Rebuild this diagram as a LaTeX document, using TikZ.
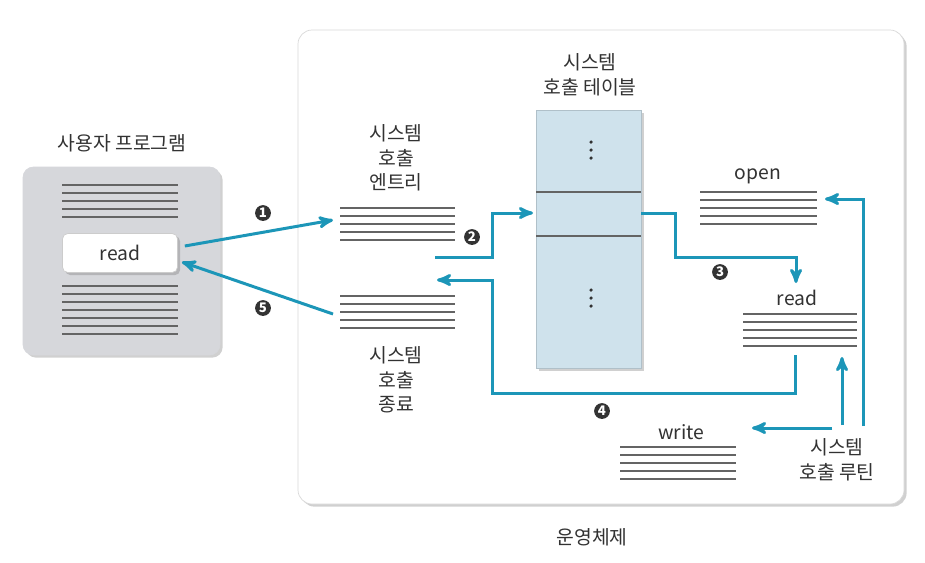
\documentclass[tikz,border=0pt]{standalone}
\usepackage{fontspec}
\setmainfont{Noto Sans CJK KR}
\usetikzlibrary{calc}
\usetikzlibrary{arrows}
\usetikzlibrary{shadows}

\definecolor{callblue}{RGB}{28,150,184}
\definecolor{tableblue}{RGB}{207,226,236}
\definecolor{progray}{RGB}{214,215,219}
\definecolor{txtgray}{RGB}{50,50,50}
\definecolor{linegray}{RGB}{100,100,100}

\begin{document}
\begin{tikzpicture}[>=stealth', x=0.02cm, y=-0.02cm]
\tikzset{txt/.style={text=txtgray,align=center,font=\fontsize{11}{14}\selectfont}}
\tikzset{textline/.style={draw=linegray,line width=0.6pt}}
\tikzset{flow/.style={->,draw=callblue,line width=1.7pt}}
\tikzset{badge/.style={circle,fill=black!80,text=white,inner sep=0,minimum size=9pt,font=\fontsize{7.5}{7.5}\selectfont\bfseries}}
\tikzset{dot/.style={circle,fill=txtgray,inner sep=0,minimum size=2pt}}
\tikzset{softshadow/.style={drop shadow={shadow xshift=1.5pt,shadow yshift=-1.5pt,opacity=0.3,fill=black!60}}}

\fill[white] (0,0) rectangle (925,562);
\useasboundingbox (0,0) rectangle (925,562);

% operating system
\draw[fill=white,draw=black!15,rounded corners=8pt,softshadow] (298,30) rectangle (904,504);
\node[txt] (os) at (592,537) {운영체제};

% user program
\draw[fill=progray,draw=progray,rounded corners=6pt,softshadow] (23,167) rectangle (220,355);
\node[txt] (prog) at (122,143) {사용자 프로그램};
\foreach \y in {185,193,...,217} \draw[textline] (62,\y) -- (178,\y);
\foreach \y in {286,294,...,334} \draw[textline] (62,\y) -- (178,\y);
\node[txt,fill=white,draw=black!20,rounded corners=3pt,minimum width=2.3cm,minimum height=0.78cm,softshadow] (readcall) at (120,253) {read};

% system call table
\draw[fill=tableblue,draw=tableblue!85!black,softshadow] (536,110) rectangle (641,368);
\draw[textline] (536,192) -- (641,192);
\draw[textline] (536,236) -- (641,236);
\foreach \y in {142,150,158} \node[dot] at (591,\y) {};
\foreach \y in {290,298,306} \node[dot] at (591,\y) {};
\node[txt] (tbl) at (590,75) {시스템\\호출 테이블};

% entry / exit
\node[txt] (entry) at (396,158) {시스템\\호출\\엔트리};
\foreach \y in {208,216,...,240} \draw[textline] (340,\y) -- (455,\y);
\foreach \y in {296,304,...,328} \draw[textline] (340,\y) -- (455,\y);
\node[txt] (exit) at (396,380) {시스템\\호출\\종료};

% routines
\node[txt] (open) at (758,176) {open};
\foreach \y in {192,200,...,224} \draw[textline] (700,\y) -- (817,\y);
\node[txt] (read) at (797,298) {read};
\foreach \y in {314,322,...,346} \draw[textline] (743,\y) -- (857,\y);
\node[txt] (write) at (681,432) {write};
\foreach \y in {447,455,...,479} \draw[textline] (620,\y) -- (736,\y);
\node[txt] (routine) at (837,460) {시스템\\호출 루틴};

% connectors
\coordinate (entryin) at (333,220);
\coordinate (exitout) at (333,314);
\coordinate (s2) at (435,257);
\coordinate (b2) at (492,213);
\coordinate (slotin) at (533,213);
\coordinate (slotout) at (641,213);
\coordinate (b3) at (675,257);
\coordinate (readin) at (796,283);
\coordinate (readout) at (795,355);
\coordinate (b4) at (492,393);
\coordinate (exitin) at (437,280);

\draw[flow] ($(readcall.east)+(7,-7)$) -- (entryin);
\draw[flow] (exitout) -- ($(readcall.east)+(4,9)$);
\draw[flow] (s2) -| (b2) -- (slotin);
\draw[flow] (slotout) -| (b3) -| (readin);
\draw[flow] (readout) |- (b4) |- (exitin);

\draw[flow] (842,425) -- (842,357);
\draw[flow] (863,426) |- (825,199);
\draw[flow] (832,428) -- (752,428);

\node[badge] (n1) at (263,213) {1};
\node[badge] (n2) at (472,237) {2};
\node[badge] (n3) at (720,272) {3};
\node[badge] (n4) at (602,411) {4};
\node[badge] (n5) at (263,308) {5};
\end{tikzpicture}
\end{document}
